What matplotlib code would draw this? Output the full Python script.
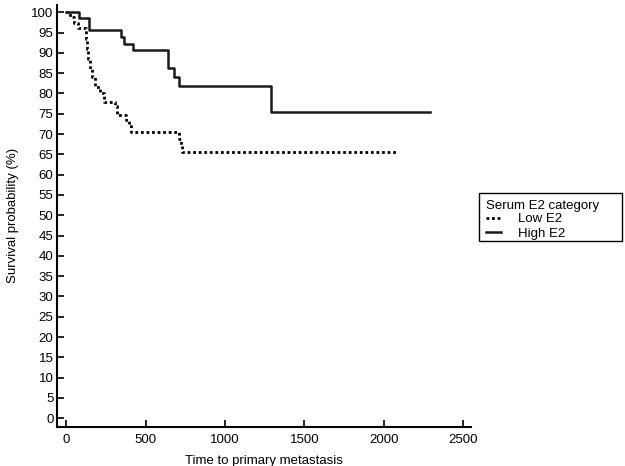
import numpy as np
import matplotlib.pyplot as plt
from matplotlib.patches import Rectangle

plt.rcParams['font.family'] = ['Liberation Sans', 'DejaVu Sans']

# Kaplan-Meier steps
low_times = [0, 25, 50, 75, 125, 132, 140, 150, 165, 185, 215, 240, 305, 320, 375, 395, 410, 708, 720, 730]
low_surv = [100, 98.9, 97.3, 96.1, 93.5, 91.0, 88.5, 86.0, 84.0, 81.5, 80.0, 78.0, 76.8, 74.8, 73.5, 72.0, 70.6, 68.8, 67.2, 65.6]
low_end = 2080

high_times = [0, 84, 145, 346, 363, 420, 642, 678, 712, 1289]
high_surv = [100, 98.7, 95.6, 93.8, 92.3, 90.6, 86.3, 84.1, 81.8, 75.5]
high_end = 2290

x_ticks = [0, 500, 1000, 1500, 2000, 2500]
y_ticks = list(range(0, 101, 5))

fs = 9.5
fig = plt.figure(figsize=(6.25, 4.66), dpi=100)
ax = fig.add_axes([0.0912, 0.0843, 0.663, 0.905])

ax.step(low_times + [low_end], low_surv + [low_surv[-1]], where='post',
        color='black', linestyle=(0, (1, 1)), linewidth=2, label='Low E2')
ax.step(high_times + [high_end], high_surv + [high_surv[-1]], where='post',
        color='#1a1a1a', linestyle='-', linewidth=1.8, label='High E2')

ax.set_xlim(-57, 2550)
ax.set_ylim(-2.1, 101.8)
ax.set_xticks(x_ticks)
ax.set_yticks(y_ticks)
ax.tick_params(direction='in', length=5, width=1.2, labelsize=fs, pad=2.5)
ax.tick_params(axis='x', pad=5.5)
for s in ['top', 'right']:
    ax.spines[s].set_visible(False)
for s in ['left', 'bottom']:
    ax.spines[s].set_linewidth(1.5)

ax.set_xlabel('Time to primary metastasis', fontsize=fs, labelpad=6)
ax.set_ylabel('Survival probability (%)', fontsize=fs, labelpad=9)

leg = fig.legend(title='Serum E2 category', loc='upper left',
                 bbox_to_anchor=(0.763, 0.591), fontsize=fs, title_fontsize=fs,
                 handlelength=1.15, handletextpad=1.3, borderpad=0.2,
                 labelspacing=0.15, frameon=False, alignment='left')
leg._legend_box.sep = 1
fig.add_artist(Rectangle((0.7664, 0.4828), 0.2288, 0.103, transform=fig.transFigure,
                         fill=False, edgecolor='black', linewidth=1.0))

plt.savefig('out.png', dpi=100)
